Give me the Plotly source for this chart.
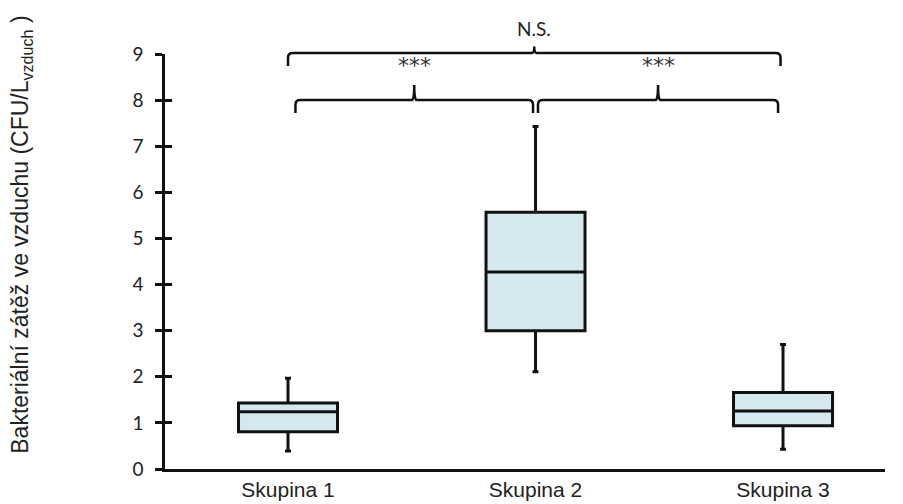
import plotly.graph_objects as go

# ---- data ----
categories = ["Skupina 1", "Skupina 2", "Skupina 3"]
lower_whisker = [0.39, 2.11, 0.43]
q1_values = [0.81, 3.00, 0.94]
medians = [1.24, 4.27, 1.26]
q3_values = [1.43, 5.57, 1.66]
upper_whisker = [1.97, 7.43, 2.70]

# comparisons: (from index, to index, bar level, label)
comp_from = [0.03, 1.01, 0.0]
comp_to = [0.99, 1.98, 1.99]
comp_level = [8.0, 8.0, 9.02]
comp_label = ["***", "***", "N.S."]

y_ticks = list(range(0, 10))
Y_MIN, Y_MAX = 0, 9

LINE = "#111111"
FILL = "#d5e8ee"


def yp(v):
    """data value -> paper coordinate of the y axis"""
    return (v - Y_MIN) / (Y_MAX - Y_MIN)


fig = go.Figure()
for i, name in enumerate(categories):
    fig.add_trace(go.Box(
        x=[i], q1=[q1_values[i]], median=[medians[i]], q3=[q3_values[i]],
        lowerfence=[lower_whisker[i]], upperfence=[upper_whisker[i]],
        width=0.4, whiskerwidth=0.06,
        fillcolor=FILL, line=dict(color=LINE, width=3),
        boxpoints=False, name=name, showlegend=False, hoverinfo="skip",
    ))
# dummy trace so the inner-tick axis gets drawn
fig.add_trace(go.Scatter(x=[0], y=[medians[0]], yaxis="y2", mode="none",
                         showlegend=False, hoverinfo="skip"))

# brackets
dx = 0.02     # corner radius horizontally (data units)
tip = 0.28    # tip drop (data units)
cr = 0.1      # corner radius vertically
shapes = []
annotations = []
for a, b, lvl, lab in zip(comp_from, comp_to, comp_level, comp_label):
    c = (a + b) / 2
    nub = 0.33 if lvl < 9 else 0.14
    path = (f"M {a},{yp(lvl - tip)} L {a},{yp(lvl - cr)} Q {a},{yp(lvl)} {a + dx},{yp(lvl)} "
            f"L {c - dx * 0.5},{yp(lvl)} Q {c},{yp(lvl)} {c},{yp(lvl + nub)} "
            f"Q {c},{yp(lvl)} {c + dx * 0.5},{yp(lvl)} "
            f"L {b - dx},{yp(lvl)} Q {b},{yp(lvl)} {b},{yp(lvl - cr)} L {b},{yp(lvl - tip)}")
    shapes.append(dict(type="path", path=path, xref="x", yref="paper",
                       line=dict(color=LINE, width=2.5)))
    if lab == "***":
        ypos = lvl + 0.74
        fnt = dict(family="DejaVu Sans", size=22, color="#333333")
    else:
        ypos = lvl + 0.54
        fnt = dict(family="Lato", size=19, color="#222222")
    annotations.append(dict(x=c, y=yp(ypos), xref="x", yref="paper", text=lab,
                            showarrow=False, yanchor="middle", font=fnt))

annotations.append(dict(
    text="Bakteriální zátěž ve vzduchu (CFU/L<sub>vzduch</sub> )",
    xref="paper", yref="paper", x=0, y=yp(5.08), xshift=-143, xanchor="center",
    yanchor="middle", textangle=-90, showarrow=False,
    font=dict(family="Arial", size=23, color="#222222")))

# page body has an 8px margin: shrink figure and margins to compensate
fig.update_layout(
    width=895, height=496,
    margin=dict(l=157, r=18, t=46, b=35),
    plot_bgcolor="white", paper_bgcolor="white",
    shapes=shapes, annotations=annotations,
    xaxis=dict(range=[-0.497, 2.412], tickmode="array", tickvals=[0, 1, 2],
               ticktext=categories, showgrid=False, zeroline=False,
               showline=True, linecolor=LINE, linewidth=2.5, ticks="",
               automargin=False,
               tickfont=dict(family="Arial", size=21, color="#222222")),
    yaxis=dict(range=[Y_MIN, Y_MAX], tickmode="array", tickvals=y_ticks,
               showgrid=False, zeroline=False, showline=True, linecolor=LINE,
               linewidth=2.5, ticks="outside", ticklen=7, tickwidth=2.5,
               tickcolor=LINE, ticklabelstandoff=8, automargin=False,
               tickfont=dict(family="Lato", size=19, color="#222222")),
    yaxis2=dict(range=[Y_MIN, Y_MAX], overlaying="y", side="left", tickmode="array",
                tickvals=y_ticks, showticklabels=False, showgrid=False,
                zeroline=False, showline=False, ticks="inside", ticklen=7,
                tickwidth=2.5, tickcolor=LINE, automargin=False),
)

fig.write_html("out.html")
